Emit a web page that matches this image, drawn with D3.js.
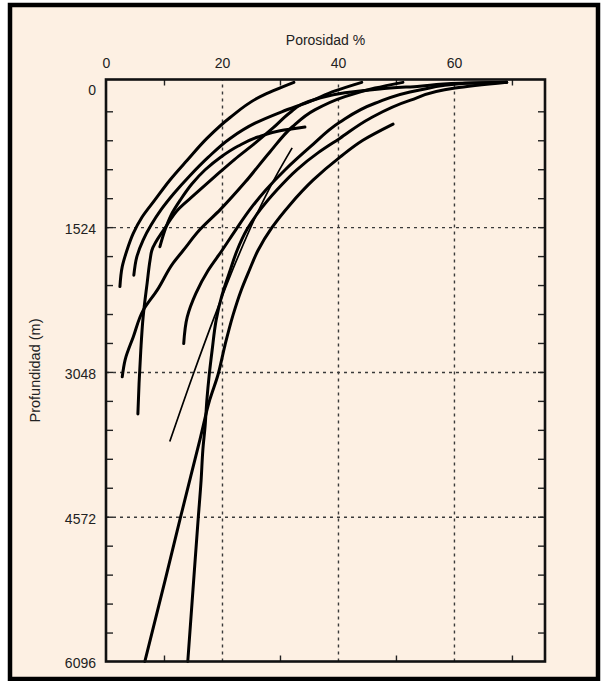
<!DOCTYPE html>
<html>
<head>
<meta charset="utf-8">
<script src="https://cdn.jsdelivr.net/npm/d3@7"></script>
<style>
body { margin: 0; background: #fff; }
text { font-family: "Liberation Sans", Arial, sans-serif; }
</style>
</head>
<body>
<script>

// each curve: [porosidad %, profundidad m]
const curve1 = [[32.4,0],[26.6,150],[21.4,370],[17.4,590],[14.0,820],[11.0,1030],[8.4,1240],[6.2,1420],[4.7,1590],[3.6,1770],[2.8,1940],[2.4,2150]];
const curve2 = [[44.1,0],[39.5,90],[35.2,200],[30.3,310],[25.7,430],[21.4,590],[17.6,790],[14.5,980],[11.7,1170],[9.5,1340],[7.8,1500],[6.4,1660],[5.3,1840],[4.8,2030]];
const curve3 = [[34.3,470],[30.0,510],[26.2,575],[22.8,670],[19.7,790],[17.1,920],[14.8,1070],[12.8,1240],[11.2,1400],[10.2,1550],[9.3,1730]];
const curve4 = [[69.1,0],[61.0,10],[54.1,40],[47.2,70],[41.2,110],[36.6,170],[33.8,230],[31.7,320],[28.8,480],[25.7,640],[22.2,810],[18.8,990],[15.3,1180],[12.4,1340],[10.2,1530],[7.9,1770],[7.6,1870],[7.1,2110],[6.4,2470],[6.0,2820],[5.7,3170],[5.5,3490]];
const curve5 = [[51.2,0],[46.4,60],[41.2,150],[36.0,290],[32.1,470],[28.3,730],[24.0,1050],[19.7,1340],[16.2,1550],[13.3,1770],[11.6,1900],[8.8,2190],[6.4,2400],[4.7,2680],[3.3,2920],[2.8,3100]];
const curve6 = [[69.1,0],[61.9,10],[54.1,80],[46.4,220],[40.3,420],[35.2,680],[30.9,920],[27.6,1130],[24.8,1340],[22.4,1550],[20.0,1770],[17.6,1980],[15.5,2220],[14.0,2470],[13.4,2750]];
const curve7 = [[49.5,440],[44.3,610],[40.3,790],[35.7,1030],[31.7,1290],[28.6,1530],[26.2,1770],[24.7,1980],[23.3,2190],[21.9,2450],[20.5,2770],[19.3,3080],[17.9,3340],[16.2,3760],[12.8,4590],[10.2,5240],[6.7,6096]];
const curve8 = [[69.1,0],[60.2,60],[52.4,190],[45.5,380],[40.3,590],[36.6,740],[32.9,920],[29.5,1130],[26.6,1340],[24.3,1550],[22.6,1770],[21.4,1980],[20.0,2240],[19.0,2500],[18.3,2820],[17.8,3080],[17.4,3340],[17.1,3610],[16.7,3870],[16.4,4190],[15.9,4590],[15.0,5340],[14.1,6096]];
const thinCurve = [[32.1,690],[29.1,1010],[25.9,1400],[22.4,1890],[18.8,2450],[15.0,3080],[11.0,3780]];

const xTickLabels = [0, 20, 40, 60];
const xGridValues = [20, 40, 60];
const xMinorTicks = [10, 30, 50, 70];
const yTickLabels = [0, 1524, 3048, 4572, 6096];
const yGridValues = [1524, 3048, 4572];

var plot = {left: 106, right: 545, top: 79.5, bottom: 661.5};

var svg = d3.select('body')
    .append('svg')
        .attr('width', 603)
        .attr('height', 681);

svg.append('rect')
    .attr('x', 10)
    .attr('y', 5)
    .attr('width', 588)
    .attr('height', 674)
    .attr('fill', '#fdf0e3')
    .attr('stroke', '#000')
    .attr('stroke-width', 4.5);

var xScale = d3.scaleLinear()
    .domain([0, 75.7])
    .range([plot.left, plot.right]);
var yScale = d3.scaleLinear()
    .domain([-30, 6096])
    .range([plot.top, plot.bottom]);

// dashed grid
var xGrid = svg.append('g')
    .attr('transform', 'translate(0,' + plot.bottom + ')')
    .call(d3.axisBottom(xScale).tickValues(xGridValues).tickSize(-(plot.bottom - plot.top)).tickFormat(''));
var yGrid = svg.append('g')
    .attr('transform', 'translate(' + plot.left + ',0)')
    .call(d3.axisLeft(yScale).tickValues(yGridValues).tickSize(-(plot.right - plot.left)).tickFormat(''));
[xGrid, yGrid].forEach(function(g) {
    g.select('.domain').remove();
    g.selectAll('line')
        .attr('stroke', '#3a3a3a')
        .attr('stroke-width', 1.4)
        .attr('stroke-dasharray', '3,4');
});

// inward minor ticks on all four sides
var yMinor = d3.range(1, 20).map(i => i * 304.8);
var tickGroups = [
    svg.append('g').attr('transform', 'translate(0,' + plot.top + ')')
        .call(d3.axisTop(xScale).tickValues(xMinorTicks).tickSize(-6).tickFormat('')),
    svg.append('g').attr('transform', 'translate(0,' + plot.bottom + ')')
        .call(d3.axisBottom(xScale).tickValues(xMinorTicks).tickSize(-6).tickFormat('')),
    svg.append('g').attr('transform', 'translate(' + plot.left + ',0)')
        .call(d3.axisLeft(yScale).tickValues(yMinor).tickSize(-7).tickFormat('')),
    svg.append('g').attr('transform', 'translate(' + plot.right + ',0)')
        .call(d3.axisRight(yScale).tickValues(yMinor).tickSize(-7).tickFormat(''))
];
tickGroups.forEach(function(g) {
    g.select('.domain').remove();
    g.selectAll('line').attr('stroke', '#222').attr('stroke-width', 1.4);
});

// curves
var line = d3.line()
    .x(d => xScale(d[0]))
    .y(d => yScale(d[1]))
    .curve(d3.curveMonotoneY);

svg.append('g')
    .selectAll('path')
    .data([curve1, curve2, curve3, curve4, curve5, curve6, curve7, curve8])
    .join('path')
        .attr('d', line)
        .attr('fill', 'none')
        .attr('stroke', '#000')
        .attr('stroke-width', 3)
        .attr('stroke-linecap', 'round');

svg.append('path')
    .datum(thinCurve)
    .attr('d', line)
    .attr('fill', 'none')
    .attr('stroke', '#000')
    .attr('stroke-width', 1.7);

// plot frame
svg.append('rect')
    .attr('x', plot.left)
    .attr('y', plot.top)
    .attr('width', plot.right - plot.left)
    .attr('height', plot.bottom - plot.top)
    .attr('fill', 'none')
    .attr('stroke', '#111')
    .attr('stroke-width', 2.6);

// tick labels
var xLabels = svg.append('g')
    .attr('transform', 'translate(0,' + plot.top + ')')
    .call(d3.axisTop(xScale).tickValues(xTickLabels).tickSize(0).tickPadding(12).tickFormat(d3.format('d')));
var yLabels = svg.append('g')
    .attr('transform', 'translate(' + plot.left + ',2)')
    .call(d3.axisLeft(yScale).tickValues(yTickLabels).tickSize(0).tickPadding(10).tickFormat(d3.format('d')));
[xLabels, yLabels].forEach(function(g) {
    g.select('.domain').remove();
    g.selectAll('text')
        .attr('font-size', 14)
        .attr('font-family', '"Liberation Sans", Arial, sans-serif')
        .attr('fill', '#222');
});
yLabels.selectAll('text').filter(d => d === 0).attr('dy', '0.72em');

svg.append('text')
    .attr('x', (plot.left + plot.right) / 2)
    .attr('y', 45)
    .attr('text-anchor', 'middle')
    .attr('font-size', 14)
    .attr('fill', '#222')
    .text('Porosidad %');

svg.append('text')
    .attr('transform', 'translate(40,' + ((plot.top + plot.bottom) / 2) + ') rotate(-90)')
    .attr('text-anchor', 'middle')
    .attr('font-size', 14.5)
    .attr('fill', '#222')
    .text('Profundidad (m)');

</script>
</body>
</html>
